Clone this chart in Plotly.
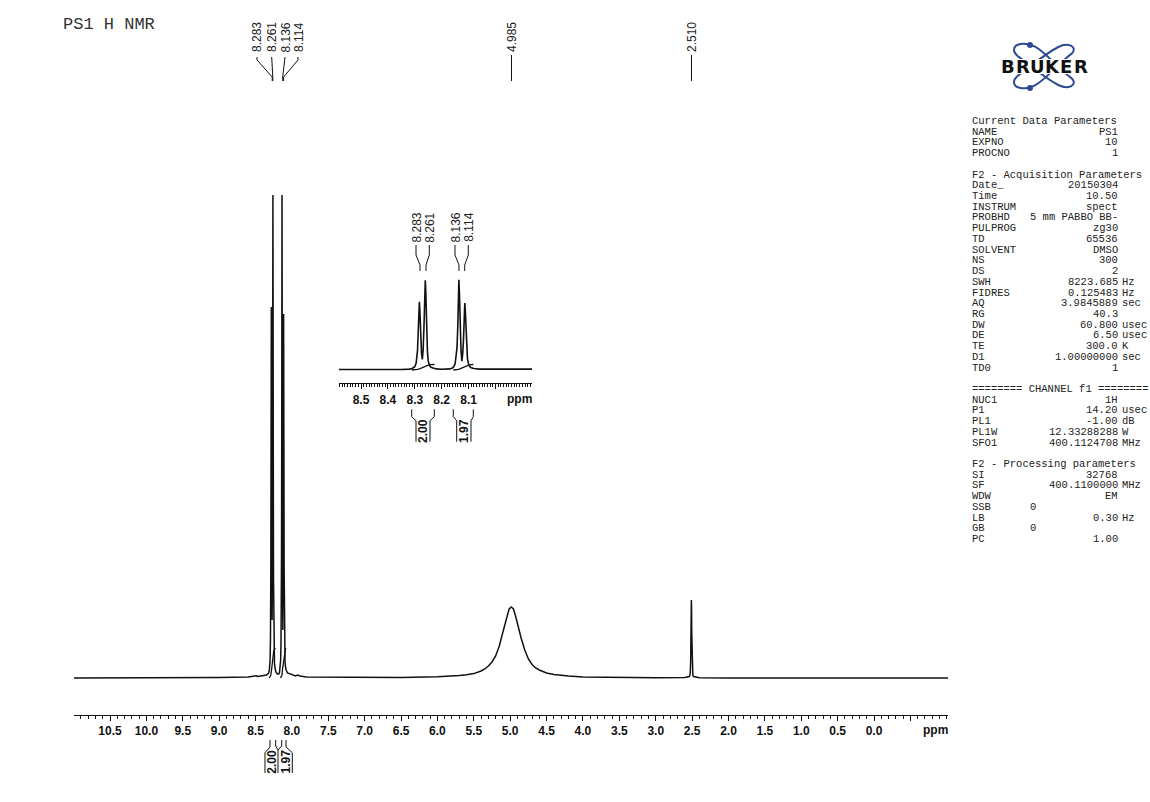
import plotly.graph_objects as go

W, H = 1150, 802

# spectrum (ppm, intensity in main-plot pixels above the baseline)
spec_ppm = [11.0, 10.0, 9.0, 8.6, 8.51, 8.49, 8.47, 8.40, 8.35, 8.32, 8.31, 8.30, 8.295, 8.29, 8.287, 8.285, 8.283,
            8.281, 8.278, 8.275, 8.272, 8.269, 8.266, 8.263, 8.261, 8.259, 8.256, 8.253, 8.25, 8.245, 8.24,
            8.23, 8.22, 8.20, 8.18, 8.17, 8.16, 8.155, 8.15, 8.146, 8.143, 8.14, 8.138, 8.136, 8.134, 8.131,
            8.128, 8.125, 8.122, 8.119, 8.117, 8.115, 8.114, 8.112, 8.11, 8.107, 8.104, 8.10, 8.095, 8.09,
            8.08, 8.06, 8.03, 8.0, 7.95, 7.92, 7.89, 7.8, 7.0, 6.5, 6.0, 5.9, 5.8, 5.7, 5.6, 5.5, 5.4, 5.35,
            5.3, 5.25, 5.2, 5.15, 5.1, 5.07, 5.04, 5.015, 4.985, 4.955, 4.93, 4.9, 4.85, 4.8, 4.75, 4.7, 4.65,
            4.6, 4.5, 4.4, 4.3, 4.2, 4.0, 3.5, 3.0, 2.6, 2.54, 2.53, 2.525, 2.52, 2.515, 2.512, 2.51, 2.508,
            2.505, 2.5, 2.495, 2.49, 2.48, 2.4, 2.0, 1.0, 0.0, -1.02]
spec_int = [0, 0, 0.4, 1, 1.5, 2.2, 1.5, 2, 3, 5, 8, 18, 38, 105, 190, 310, 371,
            320, 180, 90, 58, 110, 230, 430, 488, 420, 220, 100, 48, 24, 15,
            9, 6, 4, 4, 6, 11, 18, 34, 70, 120, 240, 420, 490, 420, 220,
            105, 48, 85, 160, 280, 350, 364, 320, 230, 110, 60, 34, 18, 12,
            8, 5, 4, 3, 2, 3, 2, 1, 0.6, 0.6, 1.2, 1.5, 1.9, 2.4, 3.2, 4.4, 7, 9,
            12, 16, 22, 32, 46, 55, 63, 69, 71, 69, 63, 54, 40, 28, 19, 13.5, 10,
            8, 5, 3.5, 2.5, 1.9, 1.1, 0.5, 0.2, 0.5, 1.5, 3, 6, 16, 45, 72, 78, 72,
            45, 16, 6, 3, 1.5, 0.3, 0, 0, 0, 0]

integ1_ppm = [8.311, 8.30, 8.29, 8.28, 8.27, 8.262, 8.25, 8.24, 8.227]
integ1_val = [0, 1, 3, 8, 15, 21, 27, 29, 30]
integ2_ppm = [8.157, 8.147, 8.137, 8.13, 8.12, 8.11, 8.10, 8.09, 8.082]
integ2_val = [0, 1, 3, 8, 15, 22, 27, 29, 30]

main_ticks = [10.5, 10.0, 9.5, 9.0, 8.5, 8.0, 7.5, 7.0, 6.5, 6.0, 5.5, 5.0, 4.5, 4.0, 3.5, 3.0, 2.5, 2.0, 1.5, 1.0, 0.5, 0.0, -0.5]
main_labels = ["10.5", "10.0", "9.5", "9.0", "8.5", "8.0", "7.5", "7.0", "6.5", "6.0", "5.5", "5.0", "4.5", "4.0", "3.5", "3.0", "2.5", "2.0", "1.5", "1.0", "0.5", "0.0", ""]
inset_ticks = [8.5, 8.4, 8.3, 8.2, 8.1, 8.0]
inset_labels = ["8.5", "8.4", "8.3", "8.2", "8.1", ""]

main_peak_labels = ["8.283", "8.261", "8.136", "8.114", "4.985", "2.510"]
inset_peak_labels = ["8.283", "8.261", "8.136", "8.114"]
integral_labels = ["2.00", "1.97"]

param_rows = [
    (1, "NAME", "PS1", ""), (2, "EXPNO", "10", ""), (3, "PROCNO", "1", ""),
    (6, "Date_", "20150304", ""), (7, "Time", "10.50", ""), (8, "INSTRUM", "spect", ""),
    (9, "PROBHD", "5 mm PABBO BB-", ""), (10, "PULPROG", "zg30", ""), (11, "TD", "65536", ""),
    (12, "SOLVENT", "DMSO", ""), (13, "NS", "300", ""), (14, "DS", "2", ""),
    (15, "SWH", "8223.685", "Hz"), (16, "FIDRES", "0.125483", "Hz"), (17, "AQ", "3.9845889", "sec"),
    (18, "RG", "40.3", ""), (19, "DW", "60.800", "usec"), (20, "DE", "6.50", "usec"),
    (21, "TE", "300.0", "K"), (22, "D1", "1.00000000", "sec"), (23, "TD0", "1", ""),
    (26, "NUC1", "1H", ""), (27, "P1", "14.20", "usec"), (28, "PL1", "-1.00", "dB"),
    (29, "PL1W", "12.33288288", "W"), (30, "SFO1", "400.1124708", "MHz"),
    (33, "SI", "32768", ""), (34, "SF", "400.1100000", "MHz"), (35, "WDW", "EM", ""),
    (37, "LB", "0.30", "Hz"), (39, "PC", "1.00", ""),
]
param_short_rows = [(36, "SSB", "0"), (38, "GB", "0")]
param_headers = [(0, "Current Data Parameters"), (5, "F2 - Acquisition Parameters"),
                 (25, "======== CHANNEL f1 ========"), (32, "F2 - Processing parameters")]


def px(x):
    return x / W


def py(y):
    return 1 - y / H


# main plot: x pixels 74..948, y pixels 195..715, baseline at 678
# inset: x pixels 339..532, y pixels 270..383.3, baseline at 370
INK = "#111111"
MONO = "Liberation Mono"
SANS = "Liberation Sans"
INSET_SCALE = 0.184

fig = go.Figure()
for xa, ya, lw in (("x", "y", 1.5), ("x2", "y2", 1.6)):
    fig.add_trace(go.Scatter(x=spec_ppm, y=spec_int, mode="lines", xaxis=xa, yaxis=ya,
                             line=dict(color=INK, width=lw), hoverinfo="skip", showlegend=False))
    for ip, iv in ((integ1_ppm, integ1_val), (integ2_ppm, integ2_val)):
        fig.add_trace(go.Scatter(x=ip, y=iv, mode="lines", xaxis=xa, yaxis=ya,
                                 line=dict(color=INK, width=1.3), hoverinfo="skip", showlegend=False))

anns = []
shapes = []


def text(x, y, s, size=11, font=SANS, anchor="center", angle=0, bold=False, color=INK, valign="middle"):
    anns.append(dict(x=px(x), y=py(y), xref="paper", yref="paper", text=s, showarrow=False,
                     xanchor=anchor, yanchor=valign, textangle=angle,
                     font=dict(family=font, size=size, color=color, weight="bold" if bold else "normal"),
                     borderpad=0, borderwidth=0))


def poly(points, width=1.0, color=INK):
    d = "M " + " L ".join(f"{px(a):.5f},{py(b):.5f}" for a, b in points)
    shapes.append(dict(type="path", path=d, xref="paper", yref="paper", line=dict(color=color, width=width)))


# title
text(63, 24, "PS1 H NMR", size=17, font=MONO, anchor="left", color="#333333")

# peak labels, main
main_label_x = [256.5, 271.5, 285, 298.5, 511.5, 691.5]
for s, x in zip(main_peak_labels, main_label_x):
    text(x, 37.5, s, size=12, angle=-90, color="#222222")
poly([(257, 57), (257, 60), (272.2, 77), (272.2, 81)])
poly([(271.7, 57), (272.8, 77), (272.8, 81)])
poly([(285, 57), (282.7, 77), (282.7, 81)])
poly([(298, 57), (298, 60), (283.6, 77), (283.6, 81)])
poly([(511.5, 55), (511.5, 81)])
poly([(691.5, 55), (691.5, 81)])

# peak labels, inset
inset_label_x = [416, 429.3, 455, 468.3]
for s, x in zip(inset_peak_labels, inset_label_x):
    text(x, 227.5, s, size=12, angle=-90, color="#222222")
poly([(416, 245), (416, 255), (420, 265), (420, 271)])
poly([(429.3, 245), (429.3, 255), (426, 265), (426, 271)])
poly([(455, 245), (455, 255), (459, 265), (459, 271)])
poly([(468.3, 245), (468.3, 255), (464.7, 265), (464.7, 271)])

# integral brackets, main
poly([(270, 740), (270, 747), (265, 752.7), (265, 773)])
poly([(275.7, 740), (275.7, 746), (278, 750), (278, 773)])
poly([(281.7, 740), (281.7, 746), (278, 750)])
poly([(286, 740), (286, 747), (292.3, 752.7), (292.3, 773)])
text(271.7, 762, integral_labels[0], size=12, angle=-90, bold=True)
text(285.5, 762, integral_labels[1], size=12, angle=-90, bold=True)

# integral brackets, inset
poly([(411.7, 409.3), (411.7, 416.7), (416, 420.7), (416, 441.7)])
poly([(434.3, 409.3), (434.3, 416.7), (430, 420.7), (430, 441.7)])
poly([(453.3, 409.3), (453.3, 416.7), (456.7, 420.7), (456.7, 441.7)])
poly([(473.3, 409.3), (473.3, 416.7), (471, 420.7), (471, 441.7)])
text(423, 431, integral_labels[0], size=12, angle=-90, bold=True)
text(464, 431, integral_labels[1], size=12, angle=-90, bold=True)

# axis unit labels
text(935, 730, "ppm", size=12, bold=True)
text(519.5, 399, "ppm", size=12, bold=True)


# Bruker logo
def lz(a, b, mirror=False):
    yy = 186 - b if mirror else b
    return f"{px(1000 + a / 3):.5f},{py(35 + yy / 3):.5f}"


LOGO_CURVE = [(42, 45), (42, 25), (75, 20), (105, 35), (135, 50), (180, 105), (215, 130), (235, 150), (205, 165),
              (175, 150), (135, 130), (90, 90), (55, 65), (45, 57), (42, 52), (42, 45)]
for mir in (False, True):
    d = "M " + lz(*LOGO_CURVE[0], mir)
    for i in range(1, len(LOGO_CURVE), 3):
        d += " C " + " ".join(lz(*p, mir) for p in LOGO_CURVE[i:i + 3])
    shapes.append(dict(type="path", path=d, xref="paper", yref="paper", line=dict(color="#2f4a93", width=2)))
for cy in (45, 88):
    shapes.append(dict(type="circle", xref="paper", yref="paper", x0=px(1027), x1=px(1033), y0=py(cy + 3), y1=py(cy - 3),
                       fillcolor="#2f4a93", line=dict(width=0)))
shapes.append(dict(type="rect", xref="paper", yref="paper", x0=px(999), x1=px(1090), y0=py(74), y1=py(59),
                   fillcolor="white", line=dict(width=0)))
for ch, x in zip("BRUKER", [1008, 1023, 1037.5, 1052, 1066, 1081]):
    text(x, 66.5, ch, size=18, font="DejaVu Sans", bold=True, color="#111111")


# parameter panel
def row_y(i):
    return 121 + 10.72 * i


for i, s in param_headers:
    text(972, row_y(i), s, size=10.5, font=MONO, anchor="left", color="#222222")
for i, name, val, unit in param_rows:
    text(972, row_y(i), name, size=10.5, font=MONO, anchor="left", color="#222222")
    text(1117.5, row_y(i), val, size=10.5, font=MONO, anchor="right", color="#222222")
    if unit:
        text(1122, row_y(i), unit, size=10.5, font=MONO, anchor="left", color="#222222")
for i, name, val in param_short_rows:
    text(972, row_y(i), name, size=10.5, font=MONO, anchor="left", color="#222222")
    text(1035.5, row_y(i), val, size=10.5, font=MONO, anchor="right", color="#222222")

axis_style = dict(showgrid=False, zeroline=False, showline=True, linecolor=INK, linewidth=1, ticks="outside",
                  tickcolor=INK, tickwidth=1, ticklen=5, tickmode="array",
                  tickfont=dict(family=SANS, size=12, color=INK, weight="bold"))

fig.update_layout(
    width=W, height=H, margin=dict(l=0, r=0, t=0, b=0), autosize=False,
    paper_bgcolor="white", plot_bgcolor="rgba(0,0,0,0)", showlegend=False,
    annotations=anns, shapes=shapes,
    xaxis=dict(domain=[px(74), px(948)], range=[10.995, -1.017], anchor="y", tickvals=main_ticks, ticktext=main_labels,
               minor=dict(dtick=0.1, tick0=0, ticks="outside", ticklen=2.5, tickcolor=INK, tickwidth=1), **axis_style),
    yaxis=dict(domain=[py(715), py(195)], range=[-37, 483], anchor="x", visible=False),
    xaxis2=dict(domain=[px(339), px(532)], range=[8.582, 7.864], anchor="y2", tickvals=inset_ticks, ticktext=inset_labels,
                minor=dict(dtick=0.01, tick0=0, ticks="outside", ticklen=2.5, tickcolor=INK, tickwidth=1), **axis_style),
    yaxis2=dict(domain=[py(383.3), py(270)], range=[-13.3 / INSET_SCALE, 100 / INSET_SCALE], anchor="x2", visible=False),
)

fig.write_html("out.html", config=dict(displayModeBar=False),
               post_script="document.body.style.margin='0';document.body.style.overflow='hidden';")
